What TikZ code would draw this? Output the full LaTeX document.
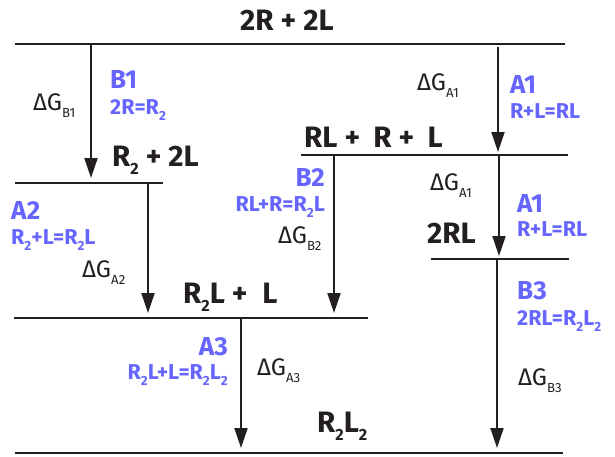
\documentclass[tikz,border=0pt]{standalone}
\usepackage{fontspec}
\setmainfont{Fira Sans}
\usetikzlibrary{arrows.meta}
\definecolor{lab}{RGB}{102,102,255}
\definecolor{ink}{RGB}{35,31,32}
\newcommand\sbs[1]{\raisebox{-0.3em}{\scalebox{0.55}{#1}}}
\newcommand\bsb[1]{\raisebox{-0.3em}{\scalebox{0.62}{#1}}}
\begin{document}
\begin{tikzpicture}[x=1pt,y=-1pt,
  level/.style={line width=2.2pt, draw=ink},
  arr/.style={line width=2pt, draw=ink, -{Triangle[length=20pt,width=13pt]}},
  main/.style={font=\bfseries\fontsize{29.5}{29.5}\selectfont, text=ink, inner sep=0pt, anchor=base west},
  bbig/.style={font=\bfseries\fontsize{26}{26}\selectfont, text=lab, inner sep=0pt, anchor=base west},
  bsmall/.style={font=\bfseries\fontsize{21.5}{21.5}\selectfont, text=lab, inner sep=0pt, anchor=base west},
  dg/.style={font=\fontsize{24}{24}\selectfont, text=ink, inner sep=0pt, anchor=base west}]
\useasboundingbox (0,0) rectangle (615,456);
% levels
\coordinate (l0a) at (15,44);  \coordinate (l0b) at (565,44);
\coordinate (l1a) at (301,155); \coordinate (l1b) at (568,155);
\coordinate (l2a) at (15,183); \coordinate (l2b) at (163,183);
\coordinate (l3a) at (431,259); \coordinate (l3b) at (569,259);
\coordinate (l4a) at (14,318); \coordinate (l4b) at (368,318);
\coordinate (l5a) at (15,453); \coordinate (l5b) at (563,453);
\foreach \i in {0,...,5} \draw[level] (l\i a) -- (l\i b);
% arrows
\coordinate (b1s) at (91,44);  \coordinate (b1e) at (91,178);
\coordinate (a1s) at (498,47); \coordinate (a1e) at (498,152);
\coordinate (a1t) at (499,155); \coordinate (a1f) at (499,256);
\coordinate (a2s) at (148,183); \coordinate (a2e) at (148,313);
\coordinate (b2s) at (334,155); \coordinate (b2e) at (334,313);
\coordinate (a3s) at (241,318); \coordinate (a3e) at (241,448);
\coordinate (b3s) at (497,259); \coordinate (b3e) at (497,448);
\draw[arr] (b1s) -- (b1e);
\draw[arr] (a1s) -- (a1e);
\draw[arr] (a1t) -- (a1f);
\draw[arr] (a2s) -- (a2e);
\draw[arr] (b2s) -- (b2e);
\draw[arr] (a3s) -- (a3e);
\draw[arr] (b3s) -- (b3e);
% species
\node[main] (s0) at (240,30) {2R + 2L};
\node[main] (s1) at (304,147) {RL +\hspace{0.45em}R +\hspace{0.45em}L};
\node[main] (s2) at (112,166) {R\sbs{2} + 2L};
\node[main] (s3) at (427,243) {2RL};
\node[main] (s4) at (183,303) {R\sbs{2}L +\hspace{0.5em}L};
\node[main] (s5) at (317,432) {R\sbs{2}L\sbs{2}};
% blue labels
\node[bbig] (tb1) at (110,88) {B1};
\node[bsmall] (eb1) at (110,114) {2R=R\bsb{2}};
\node[bbig] (ta1) at (510,93) {A1};
\node[bsmall] (ea1) at (510,118) {R+L=RL};
\node[bbig] (ta1b) at (517,212) {A1};
\node[bsmall] (ea1b) at (517,236) {R+L=RL};
\node[bbig, anchor=base east] (tb2) at (325,186) {B2};
\node[bsmall, anchor=base east] (eb2) at (325,211) {RL+R=R\bsb{2}L};
\node[bbig] (ta2) at (11,219) {A2};
\node[bsmall] (ea2) at (11,244) {R\bsb{2}+L=R\bsb{2}L};
\node[bbig, anchor=base east] (ta3) at (228,355) {A3};
\node[bsmall, anchor=base east] (ea3) at (228,379) {R\bsb{2}L+L=R\bsb{2}L\bsb{2}};
\node[bbig] (tb3) at (517,299) {B3};
\node[bsmall] (eb3) at (517,325) {2RL=R\bsb{2}L\bsb{2}};
% delta G
\node[dg] (gb1) at (33,110) {ΔG\sbs{B1}};
\node[dg] (ga1) at (417,90) {ΔG\sbs{A1}};
\node[dg] (ga1b) at (430,190) {ΔG\sbs{A1}};
\node[dg] (gb2) at (278,243) {ΔG\sbs{B2}};
\node[dg] (ga2) at (82,277) {ΔG\sbs{A2}};
\node[dg] (ga3) at (257,375) {ΔG\sbs{A3}};
\node[dg] (gb3) at (518,385) {ΔG\sbs{B3}};
\end{tikzpicture}
\end{document}
